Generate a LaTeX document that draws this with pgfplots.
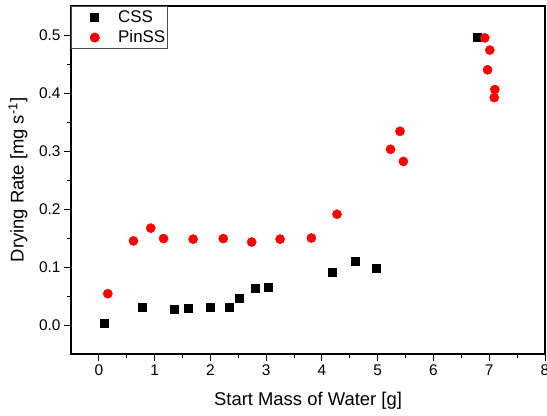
\documentclass[border=0pt]{standalone}
\usepackage{pgfplots}
\pgfplotsset{compat=1.18}
\usepackage{fontspec}
\setmainfont{Liberation Sans}

\begin{document}
\begin{tikzpicture}
\useasboundingbox (-71bp,-62bp) rectangle (476bp,354bp);
\begin{axis}[
  at={(0,0)}, anchor=south west,
  scale only axis, width=474bp, height=348bp,
  xmin=-0.5, xmax=8, ymin=-0.05, ymax=0.55,
  xtick={0,1,2,3,4,5,6,7,8}, ytick={0,0.1,0.2,0.3,0.4,0.5},
  minor x tick num=1, minor y tick num=1,
  tick pos=left, tick align=outside,
  major tick length=7bp, minor tick length=4bp,
  every tick/.style={black, line width=1pt},
  axis line style={line width=1.2pt},
  /pgf/number format/assume math mode=true,
  y tick label style={/pgf/number format/.cd, fixed, fixed zerofill, precision=1},
  tick label style={font=\fontsize{15.5}{18}\selectfont},
  xlabel={Start Mass of Water [g]},
  ylabel={Drying Rate [mg s\textsuperscript{-1}]},
  label style={font=\fontsize{18.5}{22}\selectfont},
  xlabel style={at={(axis description cs:0.5,0)}, anchor=center, yshift=-47bp},
  ylabel style={at={([xshift=-53bp]axis description cs:0,0.5)}, anchor=center},
  legend style={at={(axis description cs:0,1)}, anchor=north west,
    draw=black!70, line width=0.8pt, font=\fontsize{17}{20}\selectfont,
    inner xsep=0bp, inner ysep=2bp, row sep=3bp, cells={anchor=west},
    nodes={inner xsep=2bp}},
  legend image code/.code={\path (0bp,0bp) (44bp,0bp); \draw[#1] plot coordinates {(23bp,0bp)};},
]
\addplot[only marks, mark=square*, mark size=4bp, black] coordinates {
(0.09,0.003) (0.78,0.031) (1.35,0.028) (1.61,0.029) (2.00,0.030)
(2.34,0.031) (2.51,0.046) (2.80,0.064) (3.04,0.065) (4.18,0.091)
(4.59,0.110) (4.98,0.098) (6.79,0.497)
};
\addlegendentry{CSS}
\addplot[only marks, mark=*, mark size=4.6bp, red] coordinates {
(0.16,0.054) (0.62,0.145) (0.93,0.167) (1.16,0.149) (1.69,0.148)
(2.23,0.149) (2.74,0.143) (3.25,0.148) (3.81,0.150) (4.27,0.191)
(5.23,0.303) (5.40,0.334) (5.46,0.282) (6.92,0.495) (7.01,0.474)
(6.97,0.440) (7.10,0.406) (7.09,0.392)
};
\addlegendentry{PinSS}
\end{axis}
\end{tikzpicture}
\end{document}
